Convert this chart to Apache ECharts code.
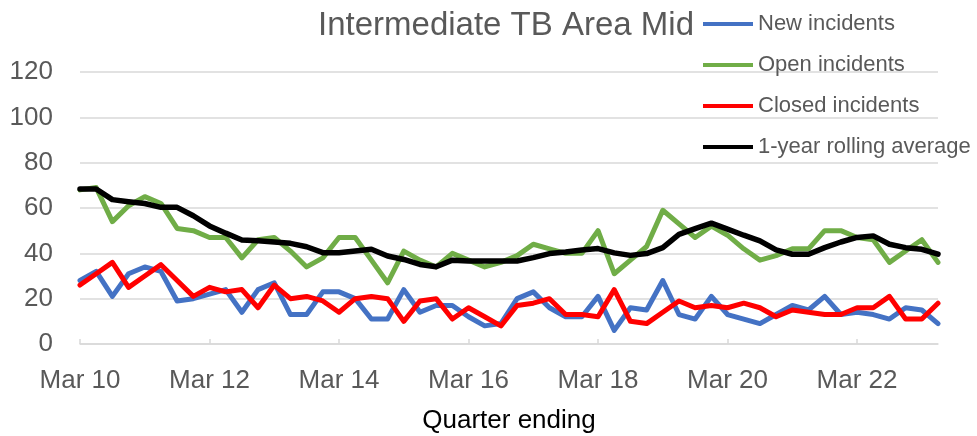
<!DOCTYPE html>
<html>
<head>
<meta charset="utf-8">
<script src="https://cdn.jsdelivr.net/npm/echarts@6/dist/echarts.min.js"></script>
<style>
html,body{margin:0;padding:0;background:#fff;}
#chart{width:977px;height:436px;}
</style>
</head>
<body>
<div id="chart"></div>
<script>
var categories = [
  "Mar 10","Jun 10","Sep 10","Dec 10","Mar 11","Jun 11","Sep 11","Dec 11",
  "Mar 12","Jun 12","Sep 12","Dec 12","Mar 13","Jun 13","Sep 13","Dec 13",
  "Mar 14","Jun 14","Sep 14","Dec 14","Mar 15","Jun 15","Sep 15","Dec 15",
  "Mar 16","Jun 16","Sep 16","Dec 16","Mar 17","Jun 17","Sep 17","Dec 17",
  "Mar 18","Jun 18","Sep 18","Dec 18","Mar 19","Jun 19","Sep 19","Dec 19",
  "Mar 20","Jun 20","Sep 20","Dec 20","Mar 21","Jun 21","Sep 21","Dec 21",
  "Mar 22","Jun 22","Sep 22","Dec 22","Mar 23","Jun 23"
];
var newIncidents = [28,32,21,31,34,32,19,20,22,24,14,24,27,13,13,23,23,20,11,11,24,14,17,17,12,8,9,20,23,16,12,12,21,6,16,15,28,13,11,21,13,11,9,13,17,15,21,13,14,13,11,16,15,9];
var openIncidents = [68,69,54,61,65,62,51,50,47,47,38,46,47,41,34,38,47,47,37,27,41,37,34,40,37,34,36,39,44,42,40,40,50,31,37,43,59,53,47,52,48,42,37,39,42,42,50,50,47,46,36,41,46,36];
var closedIncidents = [26,31,36,25,30,35,28,21,25,23,24,16,26,20,21,19,14,20,21,20,10,19,20,11,16,12,8,17,18,20,13,13,12,24,10,9,14,19,16,17,16,18,16,12,15,14,13,13,16,16,21,11,11,18];
var rollingAverage = [68.4,68.4,63.7,62.8,62.0,60.3,60.3,56.6,52.1,48.9,45.9,45.5,45.0,44.4,42.9,40.3,40.3,41.0,41.8,38.8,37.3,35.1,34.1,37.0,36.6,36.6,36.6,36.6,38.1,39.9,40.6,41.5,42.1,40.2,39.1,39.9,42.5,48.4,50.9,53.3,50.7,48.0,45.5,41.5,39.6,39.6,42.5,45.0,47.0,47.7,44.0,42.5,41.8,39.6];
var yTicks = [0,20,40,60,80,100,120];

var FONT = '"Liberation Sans", Arial, sans-serif';
function mkSeries(name, data, color, width) {
  return {
    name: name, type: 'line', data: data, showSymbol: false, symbol: 'none',
    lineStyle: { color: color, width: width, join: 'round', cap: 'round' },
    itemStyle: { color: color },
    animation: false
  };
}
var chart = echarts.init(document.getElementById('chart'), null, {renderer: 'canvas'});
chart.setOption({
  animation: false,
  title: {
    text: 'Intermediate TB Area Mid',
    left: 501, top: 4, textAlign: 'center',
    textStyle: { fontFamily: FONT, fontSize: 33, fontWeight: 'normal', color: '#595959' }
  },
  legend: {
    orient: 'vertical', left: 698, top: 8,
    itemWidth: 50, itemHeight: 4, itemGap: 19, icon: 'rect',
    textStyle: { fontFamily: FONT, fontSize: 22, color: '#595959', lineHeight: 22 },
    data: ['New incidents','Open incidents','Closed incidents','1-year rolling average']
  },
  grid: { left: 80, right: 39, top: 72, bottom: 92, containLabel: false, outerBoundsMode: 'none' },
  xAxis: {
    type: 'category', data: categories, boundaryGap: false,
    name: 'Quarter ending', nameLocation: 'middle', nameGap: 64,
    nameTextStyle: { fontFamily: FONT, fontSize: 26, color: '#000' },
    axisLine: { lineStyle: { color: '#d9d9d9', width: 1.5 } },
    axisTick: { show: true, inside: true, length: 5, interval: 7, lineStyle: { color: '#d9d9d9', width: 1.5 } },
    axisLabel: { interval: 7, margin: 24, fontFamily: FONT, fontSize: 26, color: '#595959' },
    splitLine: { show: false }
  },
  yAxis: {
    type: 'value', min: yTicks[0], max: yTicks[yTicks.length-1], interval: 20,
    axisLine: { show: false }, axisTick: { show: false },
    axisLabel: { margin: 27, fontFamily: FONT, fontSize: 26, color: '#595959' },
    splitLine: { lineStyle: { color: '#d9d9d9', width: 1.5 } }
  },
  series: [
    mkSeries('New incidents', newIncidents, '#4472C4', 5),
    mkSeries('Open incidents', openIncidents, '#70AD47', 5),
    mkSeries('Closed incidents', closedIncidents, '#FF0000', 5),
    mkSeries('1-year rolling average', rollingAverage, '#000000', 5.5)
  ]
});
</script>
</body>
</html>
